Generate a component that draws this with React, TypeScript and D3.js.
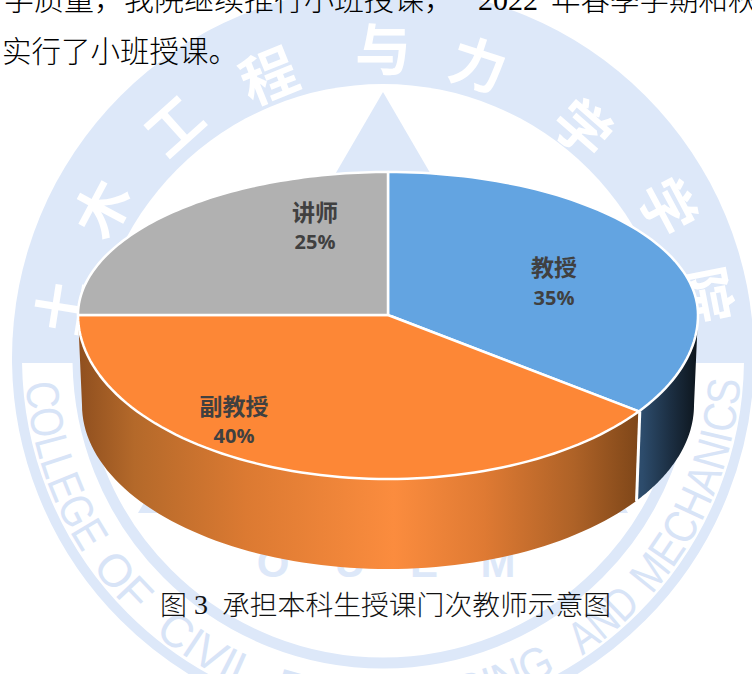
import React from "react";
import * as d3 from "d3";

const categories = ["教授", "副教授", "讲师"];
const shares = [35, 40, 25];
const shareLabels = ["35%", "40%", "25%"];
const colors = ["#63a4e1", "#fd8736", "#b1b1b1"];
const labelPos = [[554, 266, 297], [234, 405, 435], [315, 211, 241]];
const sealChars = ["土", "木", "工", "程", "与", "力", "学", "学", "院"];
const sealAngles = [-81, -62, -42, -22, 0, 18, 41, 62, 79];
const sealRadii = [329, 322, 316, 308, 313, 312, 308, 326, 333];
const sealWords = ["COLLEGE", "OF", "CIVIL", "ENGINEERING", "AND", "MECHANICS"];
const wordStart = [4, 35.6, 50.3, 72, 123.8, 138.6];
const wordEnd = [33, 45.7, 68, 119, 136.3, 176.5];
const innerLetters = ["O", "U", "E", "M"];
const innerX = [273, 350, 424, 498];
const bodyLine1a = "学质量，我院继续推行小班授课，";
const bodyYear = "2022";
const bodyLine1b = "年春季学期和秋";
const bodyLine2 = "实行了小班授课。";
const captionHead = "图";
const captionNum = "3";
const captionTail = "承担本科生授课门次教师示意图";

const W = 752, H = 674;
const cx = 388, cy = 315, rx = 310, ryUp = 143, ryDown = 164, depth = 90, rxBot = 306;
const sc = { x: 383, y: 358, R: 371 };
const wm = "#dde8f9";
const sansCJK = "'Noto Sans CJK SC', sans-serif";
const serif = "'Liberation Serif', serif";

const topPt = (a: number): [number, number] => [
  cx + rx * Math.sin(a),
  cy - (Math.cos(a) > 0 ? ryUp : ryDown) * Math.cos(a),
];
const botPt = (a: number): [number, number] => [
  cx + rxBot * Math.sin(a),
  cy + depth - (Math.cos(a) > 0 ? ryUp : ryDown) * Math.cos(a),
];
const samples = (a0: number, a1: number) => {
  const n = 80;
  return d3.range(n + 1).map((i) => a0 + ((a1 - a0) * i) / n);
};
const line = d3.line();
const rText = 358;
// degrees measured from the seal's left axis, running through the bottom
const ringPt = (deg: number) => {
  const a = (deg * Math.PI) / 180;
  return [sc.x - rText * Math.cos(a), sc.y + rText * Math.sin(a)];
};

export default function App() {
  const arcs = d3.pie<number>().sort(null).value((d) => d)(shares);
  const HALF = Math.PI / 2;
  const sideOf = (a0: number, a1: number) => {
    const s = samples(a0, a1);
    return line([...s.map(topPt), ...s.slice().reverse().map(botPt)]) + "Z";
  };
  const blueEnd = arcs[0].endAngle;
  const orangeEnd = arcs[1].endAngle;
  return (
    <svg width={W} height={H} viewBox={`0 0 ${W} ${H}`} style={{ position: "absolute", left: 0, top: 0, display: "block", background: "#fff" }}>
      <defs>
        <clipPath id="upper"><rect x={0} y={0} width={W} height={363} /></clipPath>
        <clipPath id="lower"><rect x={0} y={363} width={W} height={H - 363} /></clipPath>
        <linearGradient id="og" gradientUnits="userSpaceOnUse" x1={78} x2={642} y1={0} y2={0}>
          <stop offset="0" stopColor="#8f4f1f" />
          <stop offset="0.1" stopColor="#b4692a" />
          <stop offset="0.3" stopColor="#dc7a32" />
          <stop offset="0.56" stopColor="#fb8c3e" />
          <stop offset="0.72" stopColor="#df7a33" />
          <stop offset="0.88" stopColor="#ae6227" />
          <stop offset="1" stopColor="#7c4518" />
        </linearGradient>
        <linearGradient id="bg" gradientUnits="userSpaceOnUse" x1={642} x2={698} y1={0} y2={0}>
          <stop offset="0" stopColor="#2d4c6c" />
          <stop offset="0.5" stopColor="#1c2f43" />
          <stop offset="1" stopColor="#0d151c" />
        </linearGradient>
        {sealWords.map((w, i) => {
          const [x0, y0] = ringPt(wordStart[i]);
          const [x1, y1] = ringPt(wordEnd[i]);
          return <path key={w} id={`word${i}`} d={`M${x0},${y0} A${rText},${rText} 0 0 0 ${x1},${y1}`} />;
        })}
      </defs>

      <g clipPath="url(#upper)">
        <circle cx={sc.x} cy={sc.y} r={sc.R} fill={wm} />
        <circle cx={sc.x} cy={375} r={291} fill="#fff" />
      </g>
      <g clipPath="url(#lower)" fill="none" stroke={wm}>
        <circle cx={sc.x} cy={sc.y} r={sc.R - 5} strokeWidth={10} />
        <circle cx={sc.x} cy={sc.y} r={305} strokeWidth={11} />
      </g>
      <path d="M383,92 L138,513 L628,513 Z" fill={wm} />
      {sealChars.map((c, i) => {
        const a = (sealAngles[i] * Math.PI) / 180;
        const x = sc.x + sealRadii[i] * Math.sin(a);
        const y = sc.y - sealRadii[i] * Math.cos(a);
        return (
          <text key={i} transform={`translate(${x},${y}) rotate(${sealAngles[i]})`} textAnchor="middle" dominantBaseline="central"
            fontFamily={sansCJK} fontWeight={700} fontSize={56} fill="#fff">{c}</text>
        );
      })}
      {sealWords.map((w, i) => (
        <text key={w} fontFamily="'Liberation Sans', sans-serif" fontSize={46} fill="#d8e4f7"
          textLength={(((wordEnd[i] - wordStart[i]) * Math.PI) / 180) * rText} lengthAdjust="spacingAndGlyphs">
          <textPath href={`#word${i}`}>{w}</textPath>
        </text>
      ))}
      {innerLetters.map((c, i) => (
        <text key={c} x={innerX[i]} y={577} textAnchor="middle" fontFamily="'Liberation Sans', sans-serif" fontWeight={700} fontSize={42} fill={wm}>{c}</text>
      ))}

      <path d={sideOf(HALF, blueEnd)} fill="url(#bg)" />
      <path d={sideOf(blueEnd, orangeEnd)} fill="url(#og)" />
      <line x1={topPt(blueEnd)[0] + 1} y1={topPt(blueEnd)[1]} x2={botPt(blueEnd)[0] + 1} y2={botPt(blueEnd)[1]} stroke="#fff" strokeWidth={3} />

      {arcs.map((d, i) => {
        const pts = samples(d.startAngle, d.endAngle).map(topPt);
        return (
          <path key={i} d={line([[cx, cy], ...pts])! + "Z"} fill={colors[i]} stroke="#fff" strokeWidth={2.5} strokeLinejoin="round" />
        );
      })}

      {categories.map((c, i) => (
        <g key={c} textAnchor="middle" fill="#404040" fontWeight={700}>
          <text x={labelPos[i][0]} y={labelPos[i][1]} dominantBaseline="central" fontFamily="'Noto Sans CJK SC', serif" fontSize={23}>{c}</text>
          <text x={labelPos[i][0]} y={labelPos[i][2]} dominantBaseline="central" fontFamily="'Open Sans', sans-serif" fontSize={20}>{shareLabels[i]}</text>
        </g>
      ))}

      <text x={4} y={10} fontFamily={sansCJK} fontWeight={300} fontSize={30} fill="#000">{bodyLine1a}</text>
      <text x={478} y={10} fontFamily={serif} fontSize={30} fill="#000">{bodyYear}</text>
      <text x={551} y={10} fontFamily={sansCJK} fontWeight={300} fontSize={29.5} fill="#000">{bodyLine1b}</text>
      <text x={2} y={62} fontFamily={sansCJK} fontWeight={300} fontSize={29.5} fill="#000">{bodyLine2}</text>
      <text x={160} y={615} fontFamily={sansCJK} fontWeight={300} fontSize={27} fill="#111">{captionHead}</text>
      <text x={194} y={614} fontFamily={serif} fontSize={28} fill="#111">{captionNum}</text>
      <text x={222} y={615} fontFamily={sansCJK} fontWeight={300} fontSize={27.8} fill="#111">{captionTail}</text>
    </svg>
  );
}
